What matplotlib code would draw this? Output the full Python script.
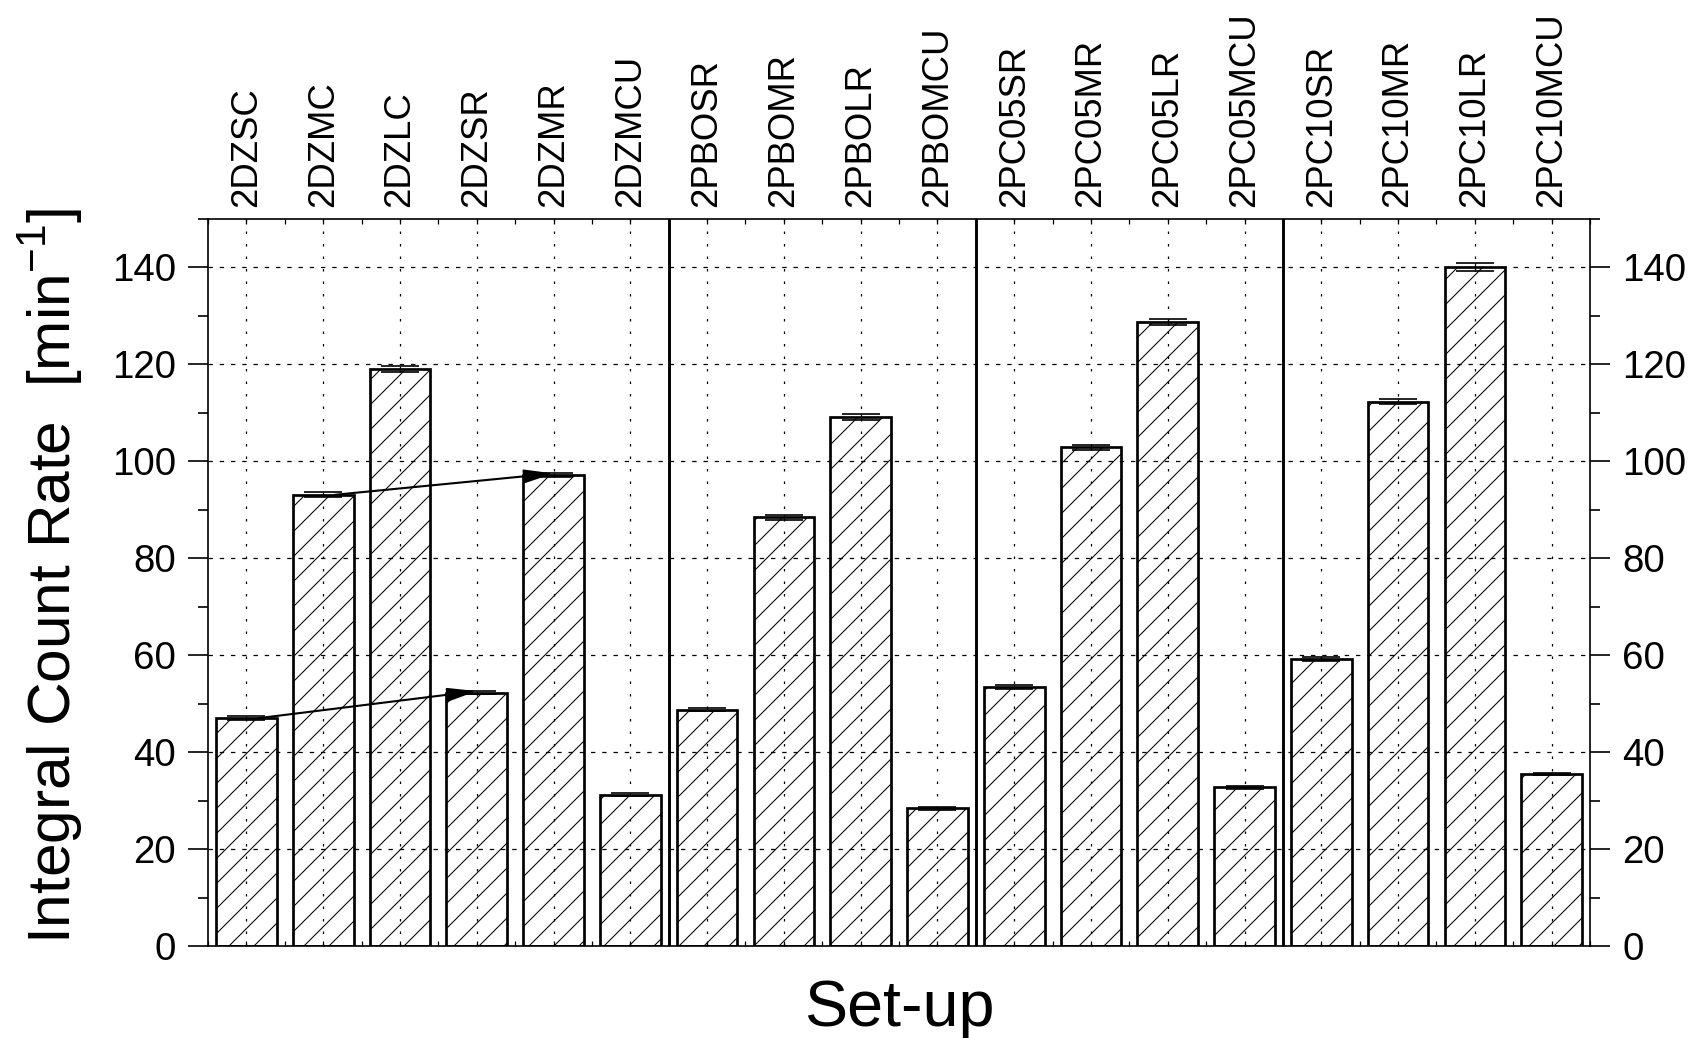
import matplotlib
matplotlib.use("Agg")
import matplotlib.pyplot as plt
import numpy as np
from matplotlib.ticker import MultipleLocator
from matplotlib.patches import ArrowStyle

plt.rcParams["font.family"] = ["Liberation Sans", "DejaVu Sans"]
plt.rcParams["hatch.linewidth"] = 0.5

SETUPS = [
    "2DZSC", "2DZMC", "2DZLC", "2DZSR", "2DZMR", "2DZMCU",
    "2PBOSR", "2PBOMR", "2PBOLR", "2PBOMCU",
    "2PC05SR", "2PC05MR", "2PC05LR", "2PC05MCU",
    "2PC10SR", "2PC10MR", "2PC10LR", "2PC10MCU",
]
RATES = [
    47.0, 93.1, 119.0, 52.3, 97.2, 31.2,
    48.8, 88.5, 109.1, 28.4,
    53.5, 102.9, 128.7, 32.8,
    59.3, 112.3, 140.1, 35.5,
]
ERRORS = [
    0.4, 0.5, 0.6, 0.4, 0.5, 0.3,
    0.4, 0.5, 0.6, 0.3,
    0.4, 0.5, 0.6, 0.3,
    0.4, 0.5, 0.9, 0.3,
]
GROUP_BOUNDS = [5.5, 9.5, 13.5]
ARROWS = [(0, 3), (1, 4)]

fig = plt.figure(figsize=(11.36, 6.92), dpi=150)
ax = fig.add_axes([0.1221, 0.0886, 0.8110, 0.7004])

x = np.arange(len(SETUPS))
ax.bar(x, RATES, width=0.79, facecolor="none", edgecolor="black",
       linewidth=1.3, hatch="//", zorder=3)
ax.errorbar(x, RATES, yerr=ERRORS, fmt="none", ecolor="black",
            elinewidth=0.6, capsize=9, capthick=0.8, zorder=4)

for xb in GROUP_BOUNDS:
    ax.axvline(xb, color="black", linewidth=1.4, zorder=5)

arrow_style = ArrowStyle("-|>", head_length=1.2, head_width=0.28)
for i, j in ARROWS:
    ax.annotate("", xy=(j, RATES[j] + 0.3), xytext=(i + 0.15, RATES[i]),
                arrowprops=dict(arrowstyle=arrow_style, color="black",
                                lw=1.0, mutation_scale=10,
                                shrinkA=0, shrinkB=0),
                zorder=6)

ax.set_xlim(-0.5, len(SETUPS) - 0.5)
ax.set_ylim(0, 150)

ax.yaxis.set_major_locator(MultipleLocator(20))
ax.yaxis.set_minor_locator(MultipleLocator(10))
ax.set_yticks([0, 20, 40, 60, 80, 100, 120, 140])
ax.tick_params(axis="y", which="both", direction="out", left=True, right=True,
               labelleft=True, labelright=True, labelsize=18.5, pad=6)
ax.tick_params(axis="y", which="major", length=9.5, width=0.8)
ax.tick_params(axis="y", which="minor", length=4.8, width=0.8)

ax.set_xticks(x)
ax.set_xticklabels(SETUPS, rotation=90)
ax.xaxis.set_minor_locator(MultipleLocator(0.5))
ax.tick_params(axis="x", which="both", direction="in", top=True, bottom=True,
               labeltop=True, labelbottom=False, labelsize=17.5, pad=6,
               length=2.5, width=0.6)

ax.grid(axis="x", which="major", color="black", linestyle=(0, (2, 8)),
        linewidth=0.6, zorder=1)
ax.grid(axis="y", which="major", color="black", linestyle=(0, (3.5, 5.5)),
        linewidth=0.6, zorder=1)

for spine in ax.spines.values():
    spine.set_linewidth(0.8)

ax.set_ylabel("Integral Count Rate  [min$^{\\mathregular{-1}}$]", fontsize=29)
ax.yaxis.set_label_coords(-0.089, 0.509)
ax.set_xlabel("Set-up", fontsize=31)
ax.xaxis.set_label_coords(0.5, -0.045)

fig.savefig("out.png", dpi=150)
